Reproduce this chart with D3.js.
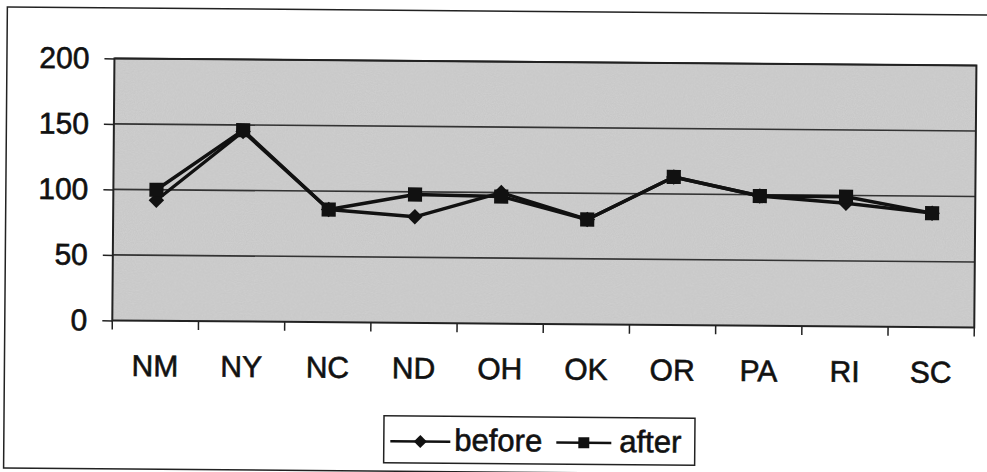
<!DOCTYPE html>
<html>
<head>
    <title>before / after</title>
    <script src="https://cdnjs.cloudflare.com/ajax/libs/d3/7.8.5/d3.min.js"></script>
    <style>
        body {
            margin: 0;
            background-color: white;
        }
        svg {
            display: block;
            font-family: "Liberation Sans", Arial, sans-serif;
        }
        .lbl {
            fill: #111;
            stroke: #111;
            stroke-width: 0.6px;
            font-size: 30px;
        }
    </style>
</head>
<body>
    <div id="chart"></div>

    <script>
        // Data
        const states = ["NM", "NY", "NC", "ND", "OH", "OK", "OR", "PA", "RI", "SC"];
        const before = [92, 145, 86, 81, 100, 80, 113, 99, 94, 87];
        const after = [100, 146, 86, 98, 97, 80, 113, 99, 99, 87];
        const yTicks = [0, 50, 100, 150, 200];
        const seriesNames = ["before", "after"];

        const width = 987;
        const height = 472;
        const plot = {left: 113, right: 975, top: 61.5, bottom: 323.5};

        const svg = d3.select("#chart")
            .append("svg")
            .attr("width", width)
            .attr("height", height);

        // the scan is slightly tilted
        const root = svg.append("g")
            .attr("transform", "rotate(0.47, 490, 236)");

        // outer frame
        root.append("rect")
            .attr("x", 5.5)
            .attr("y", 11)
            .attr("width", 1010)
            .attr("height", 461)
            .attr("fill", "white")
            .attr("stroke", "#222")
            .attr("stroke-width", 1.5);

        const x = d3.scaleBand()
            .domain(states)
            .range([plot.left, plot.right]);

        const y = d3.scaleLinear()
            .domain([0, 200])
            .range([plot.bottom, plot.top]);

        // plot area background with a bit of scanner grain
        const defs = svg.append("defs");
        const grain = defs.append("filter").attr("id", "grain");
        grain.append("feTurbulence")
            .attr("type", "fractalNoise")
            .attr("baseFrequency", 0.9)
            .attr("numOctaves", 2)
            .attr("seed", 3);
        grain.append("feColorMatrix")
            .attr("type", "matrix")
            .attr("values", "0 0 0 0 0.7  0 0 0 0 0.7  0 0 0 0 0.7  0 0 0 -1.4 1.1");
        grain.append("feComposite")
            .attr("in2", "SourceGraphic")
            .attr("operator", "in");

        root.append("rect")
            .attr("x", plot.left)
            .attr("y", plot.top)
            .attr("width", plot.right - plot.left)
            .attr("height", plot.bottom - plot.top)
            .attr("fill", "#c7c7c7");

        root.append("rect")
            .attr("x", plot.left)
            .attr("y", plot.top)
            .attr("width", plot.right - plot.left)
            .attr("height", plot.bottom - plot.top)
            .attr("fill", "#c7c7c7")
            .attr("filter", "url(#grain)")
            .attr("opacity", 0.5);

        // gridlines
        root.append("g")
            .selectAll("line")
            .data(yTicks.filter(d => d > 0))
            .enter()
            .append("line")
            .attr("x1", plot.left)
            .attr("x2", plot.right)
            .attr("y1", d => y(d))
            .attr("y2", d => y(d))
            .attr("stroke", "#333")
            .attr("stroke-width", 1.6);

        // plot frame
        root.append("rect")
            .attr("x", plot.left)
            .attr("y", plot.top)
            .attr("width", plot.right - plot.left)
            .attr("height", plot.bottom - plot.top)
            .attr("fill", "none")
            .attr("stroke", "#222")
            .attr("stroke-width", 2);

        // y axis
        const yAxis = root.append("g")
            .attr("transform", `translate(${plot.left},0)`)
            .call(d3.axisLeft(y).tickValues(yTicks).tickSize(10).tickPadding(15));
        yAxis.select(".domain").remove();
        yAxis.selectAll(".tick line").attr("stroke", "#222").attr("stroke-width", 1.5);
        yAxis.selectAll(".tick text")
            .attr("class", "lbl")
            .attr("font-size", null)
            .attr("font-family", null);

        // x axis ticks sit at the category boundaries
        const bounds = states.map(s => x(s)).concat([x(states[states.length - 1]) + x.bandwidth()]);
        root.append("g")
            .selectAll("line")
            .data(bounds)
            .enter()
            .append("line")
            .attr("x1", d => d)
            .attr("x2", d => d)
            .attr("y1", plot.bottom)
            .attr("y2", plot.bottom + 9)
            .attr("stroke", "#222")
            .attr("stroke-width", 1.5);

        root.append("g")
            .selectAll("text")
            .data(states)
            .enter()
            .append("text")
            .attr("class", "lbl")
            .attr("x", d => x(d) + x.bandwidth() / 2)
            .attr("y", 379)
            .attr("text-anchor", "middle")
            .text(d => d);

        // series
        const cx = (d, i) => x(states[i]) + x.bandwidth() / 2;
        const line = d3.line()
            .x(cx)
            .y(d => y(d));

        // Excel style markers: a square turned 45 degrees, and a square
        const diamond = {sym: d3.symbol().type(d3.symbolSquare).size(120), rot: 45};
        const square = {sym: d3.symbol().type(d3.symbolSquare).size(200), rot: 0};

        function drawSeries(values, marker) {
            const g = root.append("g");
            g.append("path")
                .datum(values)
                .attr("d", line)
                .attr("fill", "none")
                .attr("stroke", "#111")
                .attr("stroke-width", 3.4)
                .attr("stroke-linejoin", "round");
            g.selectAll("path.mark")
                .data(values)
                .enter()
                .append("path")
                .attr("class", "mark")
                .attr("d", marker.sym)
                .attr("transform", (d, i) => `translate(${cx(d, i)},${y(d)}) rotate(${marker.rot})`)
                .attr("fill", "#111");
        }

        drawSeries(before, diamond);
        drawSeries(after, square);

        // legend
        const legend = root.append("g");
        legend.append("rect")
            .attr("x", 385.5)
            .attr("y", 416.5)
            .attr("width", 311)
            .attr("height", 47)
            .attr("fill", "white")
            .attr("stroke", "#222")
            .attr("stroke-width", 1.5);

        const legendItems = [
            {name: seriesNames[0], sym: d3.symbol().type(d3.symbolSquare).size(85)(), rot: 45, x0: 392, x1: 452, tx: 456},
            {name: seriesNames[1], sym: d3.symbol().type(d3.symbolSquare).size(120)(), rot: 0, x0: 558, x1: 613, tx: 621}
        ];
        legendItems.forEach(item => {
            legend.append("line")
                .attr("x1", item.x0)
                .attr("x2", item.x1)
                .attr("y1", 442)
                .attr("y2", 442)
                .attr("stroke", "#111")
                .attr("stroke-width", 2.5);
            legend.append("path")
                .attr("d", item.sym)
                .attr("transform", `translate(${(item.x0 + item.x1) / 2},442) rotate(${item.rot})`)
                .attr("fill", "#111");
            legend.append("text")
                .attr("class", "lbl")
                .attr("x", item.tx)
                .attr("y", 451)
                .style("font-size", "31px")
                .text(item.name);
        });
    </script>
</body>
</html>
